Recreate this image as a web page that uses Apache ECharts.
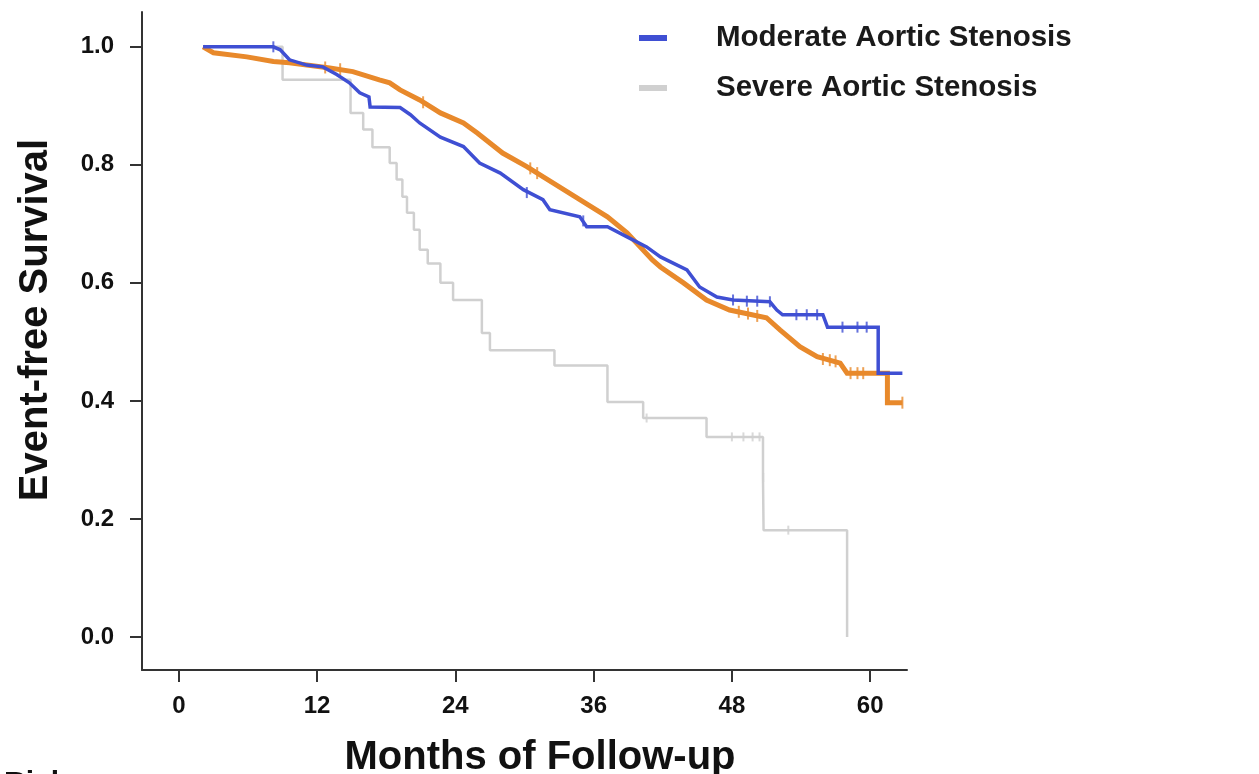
<!DOCTYPE html>
<html>
<head>
<meta charset="utf-8">
<script src="https://cdn.jsdelivr.net/npm/echarts@6/dist/echarts.min.js"></script>
<style>
html,body{margin:0;padding:0;background:#fff;}
#c{width:1259px;height:774px;}
</style>
</head>
<body>
<div id="c"></div>
<script>
// ---- Data ----
const xTicks = [0, 12, 24, 36, 48, 60];
const yTicks = [0, 0.2, 0.4, 0.6, 0.8, 1.0];

// Moderate / Mild: many small KM steps -> points
const moderateT = [2.1, 8.2, 8.8, 9.6, 11.1, 12.5, 13.7, 14.8, 15.7, 16.5, 16.6, 19.2, 20.1, 20.9, 22.7, 24.7, 26.1, 27.9, 29.9, 31.6, 32.2, 34.8, 35.4, 37.2, 38.9, 40.6, 41.8, 44.1, 45.2, 46.7, 48.1, 51.3, 51.9, 52.4, 55.9, 56.3, 60.7, 60.7, 62.8];
const moderateS = [1.0, 1.0, 0.995, 0.978, 0.969, 0.966, 0.953, 0.939, 0.922, 0.915, 0.898, 0.897, 0.885, 0.871, 0.847, 0.831, 0.803, 0.786, 0.758, 0.741, 0.724, 0.712, 0.695, 0.695, 0.678, 0.661, 0.644, 0.622, 0.593, 0.576, 0.571, 0.568, 0.554, 0.546, 0.546, 0.525, 0.525, 0.447, 0.447];

const mildT = [2.1, 3.0, 5.9, 8.2, 9.6, 13.1, 15.1, 17.4, 18.3, 19.2, 20.9, 22.7, 24.7, 25.9, 28.1, 30.2, 32.5, 34.8, 37.2, 38.9, 41.1, 41.8, 43.8, 45.8, 47.8, 51.0, 52.2, 53.9, 55.4, 57.4, 58.0, 61.5, 61.5, 62.8];
const mildS = [1.0, 0.99, 0.983, 0.975, 0.973, 0.964, 0.958, 0.944, 0.939, 0.927, 0.91, 0.888, 0.871, 0.854, 0.82, 0.797, 0.769, 0.741, 0.712, 0.685, 0.639, 0.627, 0.6, 0.571, 0.554, 0.541, 0.52, 0.492, 0.475, 0.464, 0.447, 0.447, 0.397, 0.397];

// Severe: few events -> true step function
const severeT = [2.1, 9.0, 14.9, 16.0, 16.8, 18.3, 18.9, 19.4, 19.8, 20.4, 20.9, 21.6, 22.7, 23.8, 26.3, 27.0, 32.6, 37.2, 40.3, 45.8, 50.7, 50.75, 58.0];
const severeS = [1.0, 0.944, 0.888, 0.86, 0.83, 0.803, 0.775, 0.746, 0.719, 0.69, 0.656, 0.633, 0.6, 0.571, 0.515, 0.486, 0.46, 0.398, 0.371, 0.339, 0.27, 0.181, 0.0];

// censoring marks
const moderateCensT = [8.2, 30.2, 35.1, 48.1, 49.3, 50.2, 51.3, 53.6, 54.5, 55.4, 57.6, 58.9, 59.7];
const moderateCensS = [1.0, 0.753, 0.705, 0.571, 0.569, 0.569, 0.568, 0.546, 0.546, 0.546, 0.525, 0.525, 0.525];
const mildCensT = [12.7, 14.0, 21.2, 30.5, 31.1, 48.6, 49.4, 50.2, 55.9, 56.5, 57.0, 58.3, 58.9, 59.4, 62.8];
const mildCensS = [0.965, 0.962, 0.906, 0.794, 0.786, 0.551, 0.548, 0.544, 0.471, 0.469, 0.467, 0.447, 0.447, 0.447, 0.397];
const severeCensT = [40.6, 48.0, 49.0, 49.8, 50.4, 50.72, 52.9];
const severeCensS = [0.371, 0.339, 0.339, 0.339, 0.339, 0.27, 0.181];

const seriesNames = ['Mild Aortic Stenosis', 'Moderate Aortic Stenosis', 'Severe Aortic Stenosis'];
const colors = { mild: '#E8892B', moderate: '#3F4FD3', severe: '#D0D0D0' };

// ---- Build ----
const zip = (a, b) => a.map((v, i) => [v, b[i]]);
const font = '"Liberation Sans", Arial, Helvetica, sans-serif';

const chart = echarts.init(document.getElementById('c'), null, { renderer: 'canvas' });

function censorSeries(name, t, s, color, h) {
  return {
    name: name, type: 'scatter', data: zip(t, s),
    symbol: 'rect', symbolSize: [2, h],
    itemStyle: { color: color }, silent: true, z: 3
  };
}

chart.setOption({
  backgroundColor: '#ffffff',
  animation: false,
  grid: { left: 142, right: 352, top: 12, bottom: 104, containLabel: false, outerBoundsMode: 'none' },
  legend: {
    data: ['Moderate Aortic Stenosis', 'Severe Aortic Stenosis'],
    orient: 'vertical',
    left: 634, top: 18,
    itemWidth: 28, itemHeight: 6, itemGap: 20,
    icon: 'rect',
    textStyle: { fontFamily: font, fontWeight: 'bold', fontSize: 29.5, color: '#1a1a1a', lineHeight: 30, padding: [0, 0, 0, 44] }
  },
  xAxis: {
    type: 'value', min: -3.2, max: 63.2,
    name: 'Months of Follow-up', nameLocation: 'middle', nameGap: 68,
    nameTextStyle: { fontFamily: font, fontWeight: 'bold', fontSize: 40, color: '#111', padding: [0, 0, 0, 31] },
    axisLine: { show: true, onZero: false, lineStyle: { color: '#333', width: 2 } },
    axisTick: { show: true, customValues: xTicks, length: 12, lineStyle: { color: '#333', width: 2 } },
    axisLabel: { customValues: xTicks, margin: 24, fontFamily: font, fontWeight: 'bold', fontSize: 24, color: '#111' },
    splitLine: { show: false }
  },
  yAxis: {
    type: 'value', min: -0.056, max: 1.059,
    name: 'Event-free Survival', nameLocation: 'middle', nameGap: 86,
    nameTextStyle: { fontFamily: font, fontWeight: 'bold', fontSize: 40, color: '#111', padding: [0, 0, 0, 42] },
    axisLine: { show: true, onZero: false, lineStyle: { color: '#333', width: 2 } },
    axisTick: { show: true, customValues: yTicks, length: 12, lineStyle: { color: '#333', width: 2 } },
    axisLabel: { customValues: yTicks, margin: 28, fontFamily: font, fontWeight: 'bold', fontSize: 24, color: '#111',
      formatter: v => v.toFixed(1) },
    splitLine: { show: false }
  },
  series: [
    { name: seriesNames[2], type: 'line', step: 'end', data: zip(severeT, severeS), showSymbol: false,
      lineStyle: { color: colors.severe, width: 2.5 }, itemStyle: { color: colors.severe }, z: 2 },
    censorSeries('severe-censored', severeCensT, severeCensS, colors.severe, 9),
    { name: seriesNames[0], type: 'line', data: zip(mildT, mildS), showSymbol: false,
      lineStyle: { color: colors.mild, width: 5, join: 'miter' }, itemStyle: { color: colors.mild }, z: 4 },
    censorSeries('mild-censored', mildCensT, mildCensS, colors.mild, 12),
    { name: seriesNames[1], type: 'line', data: zip(moderateT, moderateS), showSymbol: false,
      lineStyle: { color: colors.moderate, width: 3.5, join: 'miter' }, itemStyle: { color: colors.moderate }, z: 6 },
    censorSeries('moderate-censored', moderateCensT, moderateCensS, colors.moderate, 11)
  ],
  graphic: [
    { type: 'text', left: 4, top: 769, style: { text: 'Risk', fontFamily: font, fontWeight: 'bold', fontSize: 30, fill: '#111' } }
  ]
});
</script>
</body>
</html>
